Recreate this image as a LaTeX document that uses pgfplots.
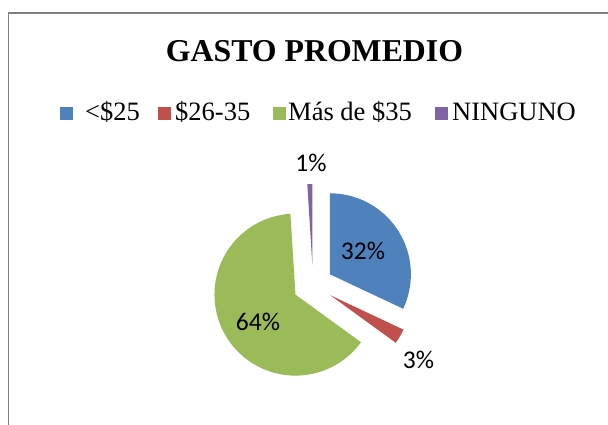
\documentclass[border=0pt]{standalone}
\usepackage{pgfplots}
\pgfplotsset{compat=1.18}
\usepackage{pgfplotstable}
\usepackage{fontspec}
\setmainfont{Liberation Serif}
\newfontfamily\carlito{Carlito}
\definecolor{c0}{HTML}{4F81BD}
\definecolor{c1}{HTML}{C0504D}
\definecolor{c2}{HTML}{9BBB59}
\definecolor{c3}{HTML}{8064A2}
\definecolor{framegray}{HTML}{808080}

% share of answers (%), clockwise from 12 o'clock
\pgfplotstableread{
cat value
lt25 32
r2635 3
gt35 64
none 1
}\gastodata

\begin{document}
\begin{tikzpicture}
% start/end/mid angle of each slice
\xdef\cum{90}
\foreach \i in {0,...,3}{
  \pgfplotstablegetelem{\i}{value}\of\gastodata
  \pgfmathsetmacro\sa{\cum}
  \pgfmathsetmacro\ea{\cum-3.6*\pgfplotsretval}
  \pgfmathsetmacro\ma{(\sa+\ea)/2}
  \expandafter\xdef\csname pieS\i\endcsname{\sa}
  \expandafter\xdef\csname pieE\i\endcsname{\ea}
  \expandafter\xdef\csname pieM\i\endcsname{\ma}
  \xdef\cum{\ea}
}
\path[use as bounding box] (0,0) rectangle (608pt,425pt);
\begin{axis}[
    at={(0,0)}, anchor=south west,
    scale only axis, width=608pt, height=425pt,
    xmin=0, xmax=608, ymin=0, ymax=425,
    hide axis, clip=false,
]
% frame (top and left edges only)
\draw[framegray, line width=1.8pt] (axis cs:8.5,0) -- (axis cs:8.5,412) -- (axis cs:608,412);

% exploded slices
\pgfplotsinvokeforeach{0,...,3}{
  \fill[c#1, shift={(\csname pieM#1\endcsname:20pt)}]
    (axis cs:313,140) -- ++(\csname pieS#1\endcsname:81pt)
    arc[start angle=\csname pieS#1\endcsname, end angle=\csname pieE#1\endcsname, radius=81pt] -- cycle;
}

% slice labels
\node[font=\carlito\fontsize{25.5}{30}\selectfont] at (axis cs:363,174) {32\%};
\node[font=\carlito\fontsize{25.5}{30}\selectfont] at (axis cs:418.5,65) {3\%};
\node[font=\carlito\fontsize{25.5}{30}\selectfont] at (axis cs:258,103) {64\%};
\node[font=\carlito\fontsize{25.5}{30}\selectfont] at (axis cs:311,262) {1\%};

% title
\node[anchor=base, font=\bfseries\fontsize{31.8}{36}\selectfont] at (axis cs:314.5,363) {GASTO PROMEDIO};

% legend
\fill[c0] (axis cs:60,305) rectangle (axis cs:73,318);
\node[anchor=base west, inner sep=0pt, font=\fontsize{26.5}{30}\selectfont] at (axis cs:85,304) {<\$25};
\fill[c1] (axis cs:158,305) rectangle (axis cs:171,318);
\node[anchor=base west, inner sep=0pt, font=\fontsize{26.5}{30}\selectfont] at (axis cs:175,304) {\$26-35};
\fill[c2] (axis cs:273,305) rectangle (axis cs:286,318);
\node[anchor=base west, inner sep=0pt, font=\fontsize{26.5}{30}\selectfont] at (axis cs:288,304) {Más de \$35};
\fill[c3] (axis cs:435,305) rectangle (axis cs:448,318);
\node[anchor=base west, inner sep=0pt, font=\fontsize{26.5}{30}\selectfont] at (axis cs:452,304) {NINGUNO};
\end{axis}
\end{tikzpicture}
\end{document}
